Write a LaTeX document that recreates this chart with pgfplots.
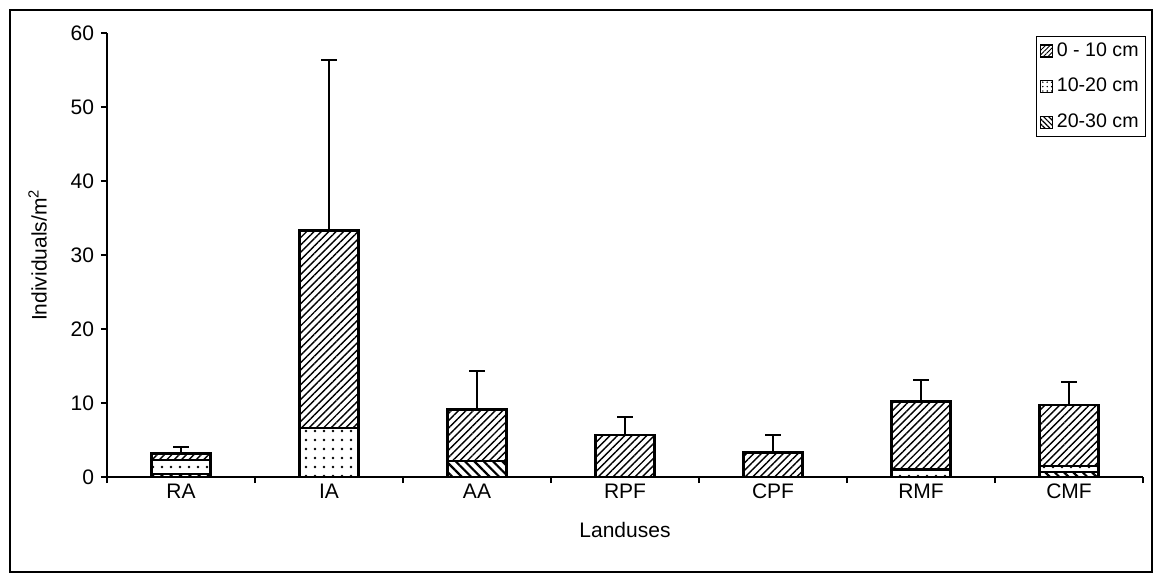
\documentclass[border=0pt]{standalone}
\usepackage{pgfplots}
\pgfplotsset{compat=1.18}
\usepackage{pgfplotstable}
\usepackage{fontspec}
\setmainfont{Liberation Sans}
\usetikzlibrary{patterns.meta}

\pgfplotstableread{
x c3 c2 c1 tot err
0 0.4 1.9 0.9 3.2 0.9
1 0.0 6.6 26.7 33.3 23.1
2 2.2 0.0 6.9 9.1 5.2
3 0.0 0.0 5.7 5.7 2.4
4 0.0 0.0 3.3 3.3 2.4
5 0.0 1.0 9.2 10.2 2.9
6 0.7 0.8 8.2 9.7 3.1
}\data

\begin{document}
\begin{tikzpicture}
\useasboundingbox (-53.5pt,-49pt) rectangle (523.5pt,238.5pt);
\draw[line width=0.6pt] (-48.5pt,-47.5pt) rectangle (522.5pt,233.5pt);
\pgfplotsset{common/.style={at={(0,0)}, anchor=south west, scale only axis,
  width=518pt, height=222pt, xmin=-0.5, xmax=6.5, ymin=0, ymax=60}}
\begin{axis}[common, ybar stacked, bar width=29.5pt,
  axis x line*=bottom, axis y line*=left,
  axis line style={line width=0.7pt, -},
  tick style={line width=0.7pt, black},
  tick align=outside, major tick length=3pt,
  ytick={0,10,...,60},
  xtick={-0.5,0.5,...,6.5}, xticklabels=\empty,
  extra x ticks={0,1,2,3,4,5,6},
  extra x tick labels={RA,IA,AA,RPF,CPF,RMF,CMF},
  extra x tick style={major tick length=0pt},
  ticklabel style={font=\fontsize{10.5}{12}\selectfont},
  /pgf/number format/assume math mode=true,
  xlabel={Landuses}, ylabel={Individuals/m\textsuperscript{2}},
  label style={font=\fontsize{10.5}{12}\selectfont},
  xlabel style={yshift=-2pt},
  ylabel style={yshift=5pt},
  reverse legend,
  legend style={at={(1.003,0.993)}, anchor=north east, draw=black, line width=0.5pt,
    font=\fontsize{9.8}{12}\selectfont, row sep=5.5pt, cells={anchor=west},
    inner xsep=1.5pt, inner ysep=1pt, /tikz/every even column/.append style={column sep=0pt}},
  legend cell align=left,
]
\addplot[draw=black, line width=1.2pt, pattern={Lines[angle=-45, distance=3.3pt, line width=1.1pt]},
  legend image code/.code={\draw[line width=0.6pt, pattern={Lines[angle=-45, distance=1.8pt, line width=0.6pt]}] (0pt,-3pt) rectangle (6pt,3pt);}]
  table[x=x, y=c3]{\data};
\addplot[draw=black, line width=1.2pt, pattern={Dots[distance=4.5pt, radius=0.65pt]},
  legend image code/.code={\draw[line width=0.6pt, pattern={Dots[distance=2.2pt, radius=0.4pt]}] (0pt,-3pt) rectangle (6pt,3pt);}]
  table[x=x, y=c2]{\data};
\addplot[draw=black, line width=1.2pt, pattern={Lines[angle=45, distance=2.6pt, line width=0.7pt]},
  legend image code/.code={\draw[line width=0.6pt, pattern={Lines[angle=45, distance=1.6pt, line width=0.45pt]}] (0pt,-3pt) rectangle (6pt,3pt);}]
  table[x=x, y=c1]{\data};
\legend{20-30 cm, 10-20 cm, 0 - 10 cm}
\end{axis}
\begin{axis}[common, hide axis]
\addplot[draw=none, mark=none,
  error bars/.cd, y dir=plus, y explicit,
  error bar style={draw=black, line width=1.1pt, solid},
  error mark options={rotate=90, mark size=4pt, line width=1.1pt, draw=black}]
  table[x=x, y=tot, y error=err]{\data};
\end{axis}
\end{tikzpicture}
\end{document}
